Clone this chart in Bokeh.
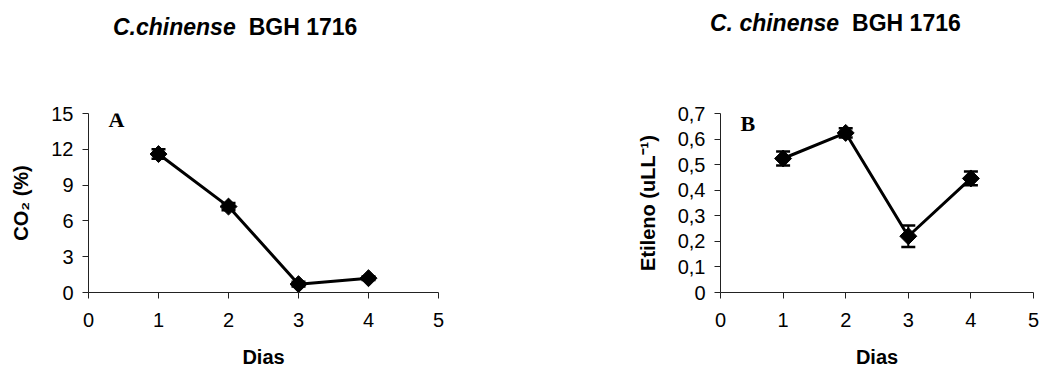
import math

from bokeh.plotting import figure
from bokeh.models import (ColumnDataSource, Whisker, TeeHead, Label, Range1d,
                          FixedTicker, CustomJSTickFormatter, Div)
from bokeh.layouts import row, column
from bokeh.embed import file_html
from bokeh.resources import INLINE

# Days after harvest
dias = [1, 2, 3, 4]

# Panel A: CO2 production (%) with standard errors
co2 = [11.6, 7.2, 0.7, 1.2]
co2_err = [0.4, 0.3, 0.2, 0.15]

# Panel B: ethylene (uL L-1) with standard errors
etileno = [0.524, 0.624, 0.22, 0.446]
etileno_err = [0.027, 0.018, 0.042, 0.027]

x_ticks = [0, 1, 2, 3, 4, 5]
co2_ticks = [0, 3, 6, 9, 12, 15]
etileno_ticks = [0, 0.1, 0.2, 0.3, 0.4, 0.5, 0.6, 0.7]

SANS = "Liberation Sans"
SERIF = "Liberation Serif"
HEADER_H = 50


def style_axes(p):
    for ax in (p.xaxis[0], p.yaxis[0]):
        ax.axis_line_color = "#222222"
        ax.axis_line_width = 1
        ax.major_tick_line_color = "#222222"
        ax.major_tick_out = 6
        ax.major_tick_in = 0
        ax.minor_tick_line_color = None
        ax.major_label_text_font = SANS
        ax.major_label_text_font_size = "20px"
        ax.major_label_text_color = "black"
        ax.axis_label_text_font = SANS
        ax.axis_label_text_font_size = "20px"
        ax.axis_label_text_font_style = "bold"
        ax.axis_label_text_color = "black"
    p.xaxis.major_label_standoff = 14
    p.xaxis.axis_label_standoff = 16
    p.yaxis.major_label_standoff = 9
    p.yaxis.axis_label_standoff = 16
    p.xgrid.visible = False
    p.ygrid.visible = False
    p.outline_line_color = None


def panel(values, errors, y_max, y_ticks, y_label, letter,
          width, height, left, right, top, bottom, letter_y):
    src = ColumnDataSource(dict(
        x=dias, y=values,
        upper=[v + e for v, e in zip(values, errors)],
        lower=[v - e for v, e in zip(values, errors)],
    ))
    p = figure(width=width, height=height, output_backend="svg",
               toolbar_location=None, x_range=Range1d(0, 5),
               y_range=Range1d(0, y_max),
               min_border_left=left, min_border_right=right,
               min_border_top=top, min_border_bottom=bottom)
    p.xaxis.ticker = FixedTicker(ticks=x_ticks)
    p.yaxis.ticker = FixedTicker(ticks=y_ticks)
    p.xaxis.axis_label = "Dias"
    p.yaxis.axis_label = y_label
    style_axes(p)

    p.line("x", "y", source=src, line_color="black", line_width=3)
    p.add_layout(Whisker(source=src, base="x", upper="upper", lower="lower",
                         dimension="height", line_color="black", line_width=2,
                         upper_head=TeeHead(size=14, line_width=2.5,
                                            line_color="black"),
                         lower_head=TeeHead(size=14, line_width=2.5,
                                            line_color="black")))
    # Excel-style diamond: a square turned 45 degrees
    p.scatter("x", "y", source=src, marker="square", size=12,
              angle=math.pi / 4, fill_color="black", line_color="black")

    p.add_layout(Label(x=20, y=letter_y, x_units="screen", y_units="screen",
                       text=letter, text_font=SERIF, text_font_style="bold",
                       text_font_size="22px", text_color="black",
                       text_baseline="middle"))
    return p


def header(italic_part, plain_part, left, top, gap):
    html = (
        f'<div style="position:absolute; left:{left}px; top:{top}px; '
        f'white-space:nowrap; font-family:\'{SANS}\'; font-size:23px; '
        f'font-weight:bold; line-height:26px; color:black;">'
        f'<i>{italic_part}</i><span style="margin-left:{gap}px">'
        f'{plain_part}</span></div>'
    )
    return Div(text=html, width=522, height=HEADER_H,
               styles={"position": "relative", "margin": "0",
                       "padding": "0"})


pa = panel(co2, co2_err, 15, co2_ticks, "CO₂ (%)", "A",
           width=522, height=371 - HEADER_H, left=88, right=84,
           top=109 - HEADER_H, bottom=77, letter_y=173)

pb = panel(etileno, etileno_err, 0.7, etileno_ticks, "Etileno (uLL⁻¹)", "B",
           width=522, height=371 - HEADER_H, left=198, right=11,
           top=113 - HEADER_H, bottom=79, letter_y=169)
pb.yaxis.formatter = CustomJSTickFormatter(
    code='return tick === 0 ? "0" : tick.toFixed(1).replace(".", ",");')

ha = header("C.chinense", "BGH 1716", 113, 14, 13)
hb = header("C. chinense", "BGH 1716", 188, 10, 13)

layout = column(row(ha, hb, spacing=0), row(pa, pb, spacing=0), spacing=0)
open("out.html", "w").write(file_html(layout, INLINE))
